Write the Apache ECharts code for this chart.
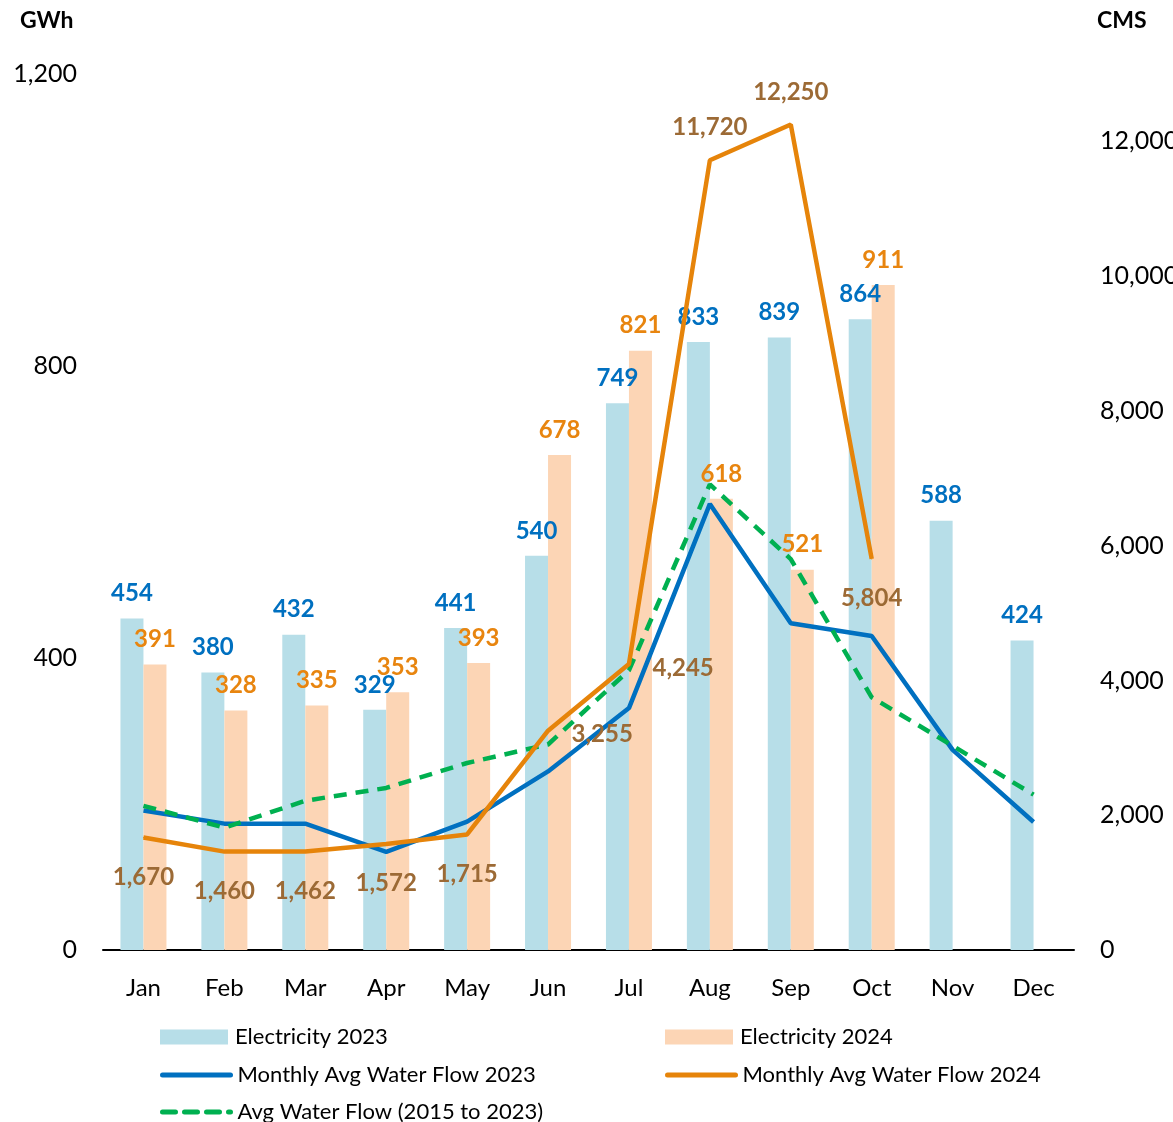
<!DOCTYPE html>
<html><head><meta charset="utf-8">
<script src="https://cdn.jsdelivr.net/npm/echarts@6/dist/echarts.min.js"></script>
<style>html,body{margin:0;padding:0;background:#fff}#c{width:1173px;height:1122px}</style>
</head><body><div id="c"></div>
<script>
const months = ['Jan','Feb','Mar','Apr','May','Jun','Jul','Aug','Sep','Oct','Nov','Dec'];
const elec2023 = [454,380,432,329,441,540,749,833,839,864,588,424];
const elec2024 = [391,328,335,353,393,678,821,618,521,911];
const flow2023 = [2070,1875,1875,1455,1905,2650,3590,6620,4850,4660,2970,1900];
const flow2024 = [1670,1460,1462,1572,1715,3255,4245,11720,12250,5804];
const flowAvg = [2140,1815,2215,2405,2775,3050,4150,6910,5800,3750,3030,2305];
const flow2024LabelPos = ['bottom','bottom','bottom','bottom','bottom','right','right','top','top','bottom'];
const leftTicks = [0,400,800,1200];

const FONT = 'Lato';
const fmt = v => Number(v).toLocaleString('en-US');
const legTxt = {fontSize:22,color:'#000',fontFamily:FONT,padding:[0,0,0,2]};
const legBase = {itemWidth:68,itemHeight:15,textStyle:legTxt};
const legLine = {itemWidth:68,itemHeight:15,textStyle:legTxt,lineStyle:{width:5,cap:'round'},itemStyle:{opacity:0}};
const posDist = {bottom:27, top:20, right:25};
const posOffset = {bottom:[0,0], top:[0,0], right:[-2,4]};
const chart = echarts.init(document.getElementById('c'));
chart.setOption({
  backgroundColor:'#fff',
  animation:false,
  textStyle:{fontFamily:FONT},
  graphic:[
    {type:'text',left:20,top:9,style:{text:'GWh',font:'bold 23px Lato',fill:'#000'}},
    {type:'text',left:1097,top:9,style:{text:'CMS',font:'bold 23px Lato',fill:'#000'}}
  ],
  grid:{left:103,right:99,top:74,bottom:172,outerBoundsMode:'none',containLabel:false},
  legend:[
    Object.assign({left:155,top:1021,data:[{name:'Electricity 2023',icon:'rect'}]},legBase),
    Object.assign({left:660,top:1021,data:[{name:'Electricity 2024',icon:'rect'}]},legBase),
    Object.assign({left:155,top:1059,data:['Monthly Avg Water Flow 2023']},legLine),
    Object.assign({left:660,top:1059,data:['Monthly Avg Water Flow 2024']},legLine),
    Object.assign({left:155,top:1096,data:['Avg Water Flow (2015 to 2023)']},legLine)
  ],
  xAxis:{type:'category',data:months,
    axisLine:{lineStyle:{color:'#000',width:2}},axisTick:{show:false},
    axisLabel:{fontSize:24,color:'#000',margin:26,fontFamily:FONT}},
  yAxis:[
    {type:'value',min:0,max:1200,interval:400,splitLine:{show:false},axisLine:{show:false},axisTick:{show:false},
     axisLabel:{fontSize:25,color:'#000',margin:26,fontFamily:FONT,formatter:v=>leftTicks.includes(v)?fmt(v):''}},
    {type:'value',min:0,max:13000,interval:2000,splitLine:{show:false},axisLine:{show:false},axisTick:{show:false},
     axisLabel:{fontSize:25,color:'#000',margin:26,fontFamily:FONT,formatter:v=>v>12000?'':fmt(v)}}
  ],
  series:[
    {name:'Electricity 2023',type:'bar',data:elec2023,barWidth:23,barGap:'0%',itemStyle:{color:'#B7DEE8'},
     label:{show:true,position:'top',distance:13,color:'#0070C0',fontWeight:'bold',fontSize:24,fontFamily:FONT}},
    {name:'Electricity 2024',type:'bar',data:elec2024,barWidth:23,barGap:'0%',itemStyle:{color:'#FCD5B5'},
     label:{show:true,position:'top',distance:13,color:'#E8850F',fontWeight:'bold',fontSize:24,fontFamily:FONT}},
    {name:'Monthly Avg Water Flow 2023',type:'line',yAxisIndex:1,data:flow2023,symbol:'none',
     lineStyle:{color:'#0070C0',width:4.5},itemStyle:{color:'#0070C0'},z:3},
    {name:'Monthly Avg Water Flow 2024',type:'line',yAxisIndex:1,symbol:'circle',symbolSize:1,showSymbol:true,
     data:flow2024.map((v,i)=>{const p=flow2024LabelPos[i];return {value:v,label:{position:p,distance:posDist[p],offset:posOffset[p]}};}),
     lineStyle:{color:'#E6840A',width:4.5},itemStyle:{color:'#E6840A'},z:4,
     label:{show:true,color:'#9C6A35',fontWeight:'bold',fontSize:24,fontFamily:FONT,formatter:p=>fmt(p.value)}},
    {name:'Avg Water Flow (2015 to 2023)',type:'line',yAxisIndex:1,data:flowAvg,symbol:'none',
     lineStyle:{color:'#00B050',width:4.5,type:[13,9]},itemStyle:{color:'#00B050'},z:3}
  ]
});
</script></body></html>
